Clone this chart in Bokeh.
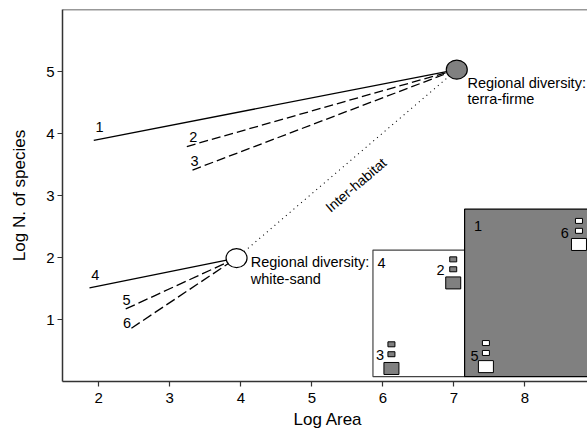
from bokeh.plotting import figure
from bokeh.models import Range1d, FixedTicker, Span, Title
from bokeh.core.properties import value
from bokeh.embed import file_html
from bokeh.resources import INLINE
import math

FONT = "Liberation Sans"

# Regional diversity points (white-sand, terra-firme)
regional_x = [3.94, 7.04]
regional_y = [1.99, 5.03]
regional_fill = ["white", "#808080"]
regional_label_l1 = ["Regional diversity:", "Regional diversity:"]
regional_label_l2 = ["white-sand", "terra-firme"]

# Local species-area curves 1-6 (start points; each ends at its regional point)
curve_ids = ["1", "2", "3", "4", "5", "6"]
curve_start_x = [1.93, 3.24, 3.32, 1.87, 2.38, 2.46]
curve_start_y = [3.89, 3.79, 3.41, 1.51, 1.17, 0.86]
curve_region = [1, 1, 1, 0, 0, 0]
curve_dash = ["solid", "9 4", "9 4", "solid", "10 4", "10 4"]
curve_label_x = [2.01, 3.33, 3.35, 1.95, 2.39, 2.40]
curve_label_y = [4.11, 3.95, 3.56, 1.71, 1.32, 0.95]

# Inset: habitat boxes
box_left = [5.86, 7.15]
box_right = [7.15, 9.6]
box_bottom = [0.08, 0.08]
box_top = [2.12, 2.78]
box_fill = ["white", "#808080"]
box_line = ["#444444", "black"]
box_ids = ["4", "1"]
box_label_x = [5.98, 7.34]
box_label_y = [1.91, 2.51]

# Inset: plot-group icons
group_ids = ["2", "3", "5", "6"]
group_x = [6.99, 6.12, 7.45, 8.76]
group_small1_y = [1.97, 0.60, 0.62, 2.59]
group_small2_y = [1.81, 0.44, 0.46, 2.43]
group_large_y = [1.59, 0.21, 0.24, 2.21]
group_fill = ["#808080", "#808080", "white", "white"]
group_label_x = [6.81, 5.96, 7.29, 8.56]
group_label_y = [1.80, 0.42, 0.41, 2.39]

x_ticks = [2, 3, 4, 5, 6, 7, 8]
y_ticks = [1, 2, 3, 4, 5]

p = figure(width=587, height=432, output_backend="svg", toolbar_location=None,
           x_range=Range1d(1.49, 8.88), y_range=Range1d(0, 6),
           min_border_left=62, min_border_right=0, min_border_top=9, min_border_bottom=51)
p.outline_line_color = None
p.grid.visible = False
p.background_fill_color = "white"

for ax in (p.xaxis[0], p.yaxis[0]):
    ax.axis_line_color = "#333333"
    ax.axis_line_width = 1.5
    ax.major_tick_line_color = "#333333"
    ax.major_tick_line_width = 1.2
    ax.major_tick_out = 5
    ax.major_tick_in = 0
    ax.minor_tick_line_color = None
    ax.major_label_text_font = FONT
    ax.major_label_text_font_size = "15px"
    ax.major_label_text_color = "black"
    ax.axis_label_text_font = FONT
    ax.axis_label_text_font_size = "17px"
    ax.axis_label_text_font_style = "normal"
    ax.axis_label_text_color = "black"

p.xaxis.ticker = FixedTicker(ticks=x_ticks)
p.yaxis.ticker = FixedTicker(ticks=y_ticks)
p.yaxis.axis_label = "Log N. of species"
p.xaxis.major_label_standoff = 6
p.yaxis.major_label_standoff = 3
p.yaxis.axis_label_standoff = 14
p.yaxis.major_label_orientation = "horizontal"

# x-axis title as a title panel below the axis
p.add_layout(Title(text="Log Area", align="left", text_font=FONT, text_font_size="17px",
                   text_font_style="normal", text_color="black", standoff=4, offset=231),
             "below")

p.add_layout(Span(location=6, dimension="width", line_color="#333333", line_width=1.5))

# Inset boxes
p.quad(left=box_left, right=box_right, bottom=box_bottom, top=box_top,
       fill_color=box_fill, line_color=box_line, line_width=1.2)
p.text(x=box_label_x, y=box_label_y, text=box_ids, text_font=value(FONT),
       text_font_size="14.5px", text_align="center", text_baseline="middle")

for gx, s1, s2, lg, fc in zip(group_x, group_small1_y, group_small2_y, group_large_y, group_fill):
    p.rect(x=[gx, gx], y=[s1, s2], width=7, height=5, width_units="screen",
           height_units="screen", fill_color=fc, line_color="black", line_width=1)
    p.rect(x=[gx], y=[lg], width=15, height=12, width_units="screen",
           height_units="screen", fill_color=fc, line_color="black", line_width=1)
p.text(x=group_label_x, y=group_label_y, text=group_ids, text_font=value(FONT),
       text_font_size="14.5px", text_align="center", text_baseline="middle")

# Inter-habitat dotted line
p.line(x=regional_x, y=regional_y, line_color="black", line_width=1.1, line_dash="1 4")
xs_px = (regional_x[1] - regional_x[0]) * 71.0
ys_px = (regional_y[1] - regional_y[0]) * 62.1
ang = math.atan2(ys_px, xs_px)
p.text(x=[5.62], y=[3.17], text=["Inter-habitat"], angle=ang, text_font=value(FONT),
       text_font_size="14px", text_align="center", text_baseline="middle")

# Curves
for sx, sy, rg, dash in zip(curve_start_x, curve_start_y, curve_region, curve_dash):
    p.line(x=[sx, regional_x[rg]], y=[sy, regional_y[rg]], line_color="black",
           line_width=1.3, line_dash=dash)
p.text(x=curve_label_x, y=curve_label_y, text=curve_ids, text_font=value(FONT),
       text_font_size="14.5px", text_align="center", text_baseline="middle")

# Regional points
p.ellipse(x=regional_x, y=regional_y, width=21, height=19, width_units="screen",
          height_units="screen", fill_color=regional_fill, line_color="black", line_width=1.2)

lab_x = [4.14, 7.19]
lab_y1 = [1.92, 4.81]
lab_y2 = [1.66, 4.55]
p.text(x=lab_x, y=lab_y1, text=regional_label_l1, text_font=value(FONT),
       text_font_size="14.5px", text_align="left", text_baseline="middle")
p.text(x=lab_x, y=lab_y2, text=regional_label_l2, text_font=value(FONT),
       text_font_size="14.5px", text_align="left", text_baseline="middle")

open("out.html", "w").write(file_html(p, INLINE))
